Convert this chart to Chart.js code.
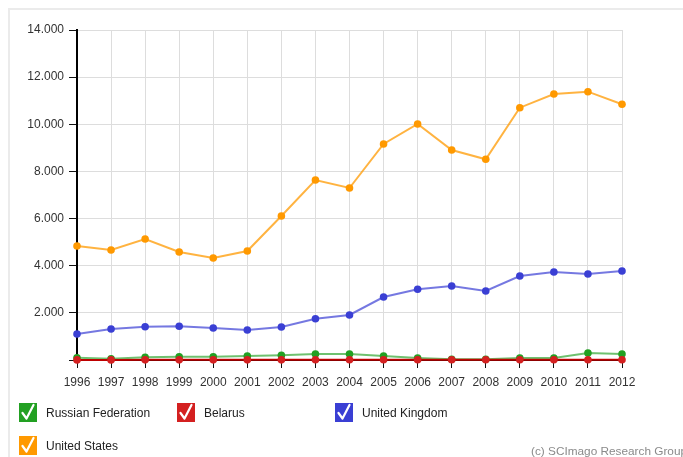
<!DOCTYPE html>
<html>
<head>
<meta charset="utf-8">
<script src="https://cdn.jsdelivr.net/npm/chart.js@4/dist/chart.umd.min.js"></script>
<style>
  html, body { margin: 0; padding: 0; background: #fff; }
  body { width: 683px; height: 457px; position: relative; overflow: hidden; font-family: "Liberation Sans", Arial, sans-serif; }
  #frame { position: absolute; left: 8px; top: 8px; width: 720px; height: 500px; border: 2px solid #ebebeb; box-sizing: border-box; }
  #wrap { position: absolute; left: 0; top: 0; width: 683px; height: 457px; }
  .leg { position: absolute; font-size: 12px; color: #222; white-space: nowrap; }
  .leg .box { position: absolute; left: 0; top: 0; width: 18px; height: 19px; }
  .leg .box svg { display: block; }
  .leg .txt { position: absolute; left: 27px; top: 3px; line-height: 15px; }
  #copy { position: absolute; left: 531px; top: 444px; font-size: 11.8px; color: #8a8a8a; white-space: nowrap; }
</style>
</head>
<body>
<div id="frame"></div>
<div id="wrap"><canvas id="c" width="683" height="457"></canvas></div>
<div id="legend"></div>
<div id="copy">(c) SCImago Research Group</div>
<script>
const years = ['1996','1997','1998','1999','2000','2001','2002','2003','2004','2005','2006','2007','2008','2009','2010','2011','2012'];
const seriesNames = ['Russian Federation', 'Belarus', 'United Kingdom', 'United States'];
const russia = [98, 55, 115, 140, 140, 170, 200, 255, 255, 170, 85, 30, 30, 85, 85, 297, 255];
const belarus = [5, 5, 6, 6, 6, 7, 7, 8, 8, 8, 8, 8, 9, 9, 9, 10, 10];
const uk = [1103, 1315, 1413, 1430, 1358, 1273, 1400, 1752, 1909, 2673, 3000, 3140, 2927, 3564, 3734, 3649, 3776];
const us = [4837, 4667, 5134, 4582, 4327, 4624, 6109, 7637, 7297, 9164, 10013, 8910, 8515, 10704, 11286, 11383, 10848];
const yTicks = [0, 2000, 4000, 6000, 8000, 10000, 12000, 14000];

const colors = ['#22a022', '#d42020', '#3a3fd4', '#ff9900'];
const lineColors = ['rgba(34,160,34,0.65)', 'rgba(200,0,0,0.95)', 'rgba(58,63,212,0.7)', 'rgba(255,153,0,0.75)'];
const values = [russia, belarus, uk, us];
const orders = [1, 0, 2, 3];

function fmt(v) { return String(v).replace(/\B(?=(\d{3})+(?!\d))/g, '.'); }

const datasets = seriesNames.map((n, i) => ({
  label: n,
  data: values[i],
  borderColor: lineColors[i],
  backgroundColor: colors[i],
  pointBackgroundColor: colors[i],
  pointBorderWidth: 0,
  pointRadius: 3.8,
  borderWidth: 2,
  tension: 0,
  fill: false,
  clip: false,
  order: orders[i]
}));

new Chart(document.getElementById('c'), {
  type: 'line',
  data: { labels: years, datasets: datasets },
  options: {
    responsive: false,
    animation: false,
    layout: { padding: { top: 30, right: 61, left: 0, bottom: 0 } },
    plugins: { legend: { display: false }, tooltip: { enabled: false } },
    scales: {
      x: {
        offset: false,
        grid: { color: '#dddddd', lineWidth: 1, tickColor: '#111', tickLength: 8, drawTicks: true },
        border: { color: '#000', width: 2 },
        ticks: { color: '#333', font: { family: 'Liberation Sans, Arial', size: 12 }, padding: 7, autoSkip: false, maxRotation: 0 },
        afterFit: s => { s.height = 97; }
      },
      y: {
        min: 0, max: 14000,
        afterBuildTicks: s => { s.ticks = yTicks.map(v => ({ value: v })); },
        grid: { color: '#dddddd', lineWidth: 1, tickColor: '#111', tickLength: 8, drawTicks: true },
        border: { color: '#000', width: 2 },
        ticks: { color: '#333', font: { family: 'Liberation Sans, Arial', size: 12 }, padding: 5,
          callback: v => v === 0 ? '' : fmt(v) },
        afterFit: s => { s.width = 77; }
      }
    }
  }
});

// HTML legend with checkbox icons
const legPos = [[19, 403], [177, 403], [335, 403], [19, 436]];
const legend = document.getElementById('legend');
seriesNames.forEach((n, i) => {
  const d = document.createElement('div');
  d.className = 'leg';
  d.style.left = legPos[i][0] + 'px';
  d.style.top = legPos[i][1] + 'px';
  d.innerHTML = '<div class="box" style="background:' + colors[i] + '"><svg width="18" height="19" viewBox="0 0 18 19">' +
    '<polyline points="3.5,10 7.5,15.5 14.5,2" fill="none" stroke="#fff" stroke-width="2.2" stroke-linecap="round" stroke-linejoin="round"/></svg></div>' +
    '<span class="txt">' + n + '</span>';
  legend.appendChild(d);
});
</script>
</body>
</html>
